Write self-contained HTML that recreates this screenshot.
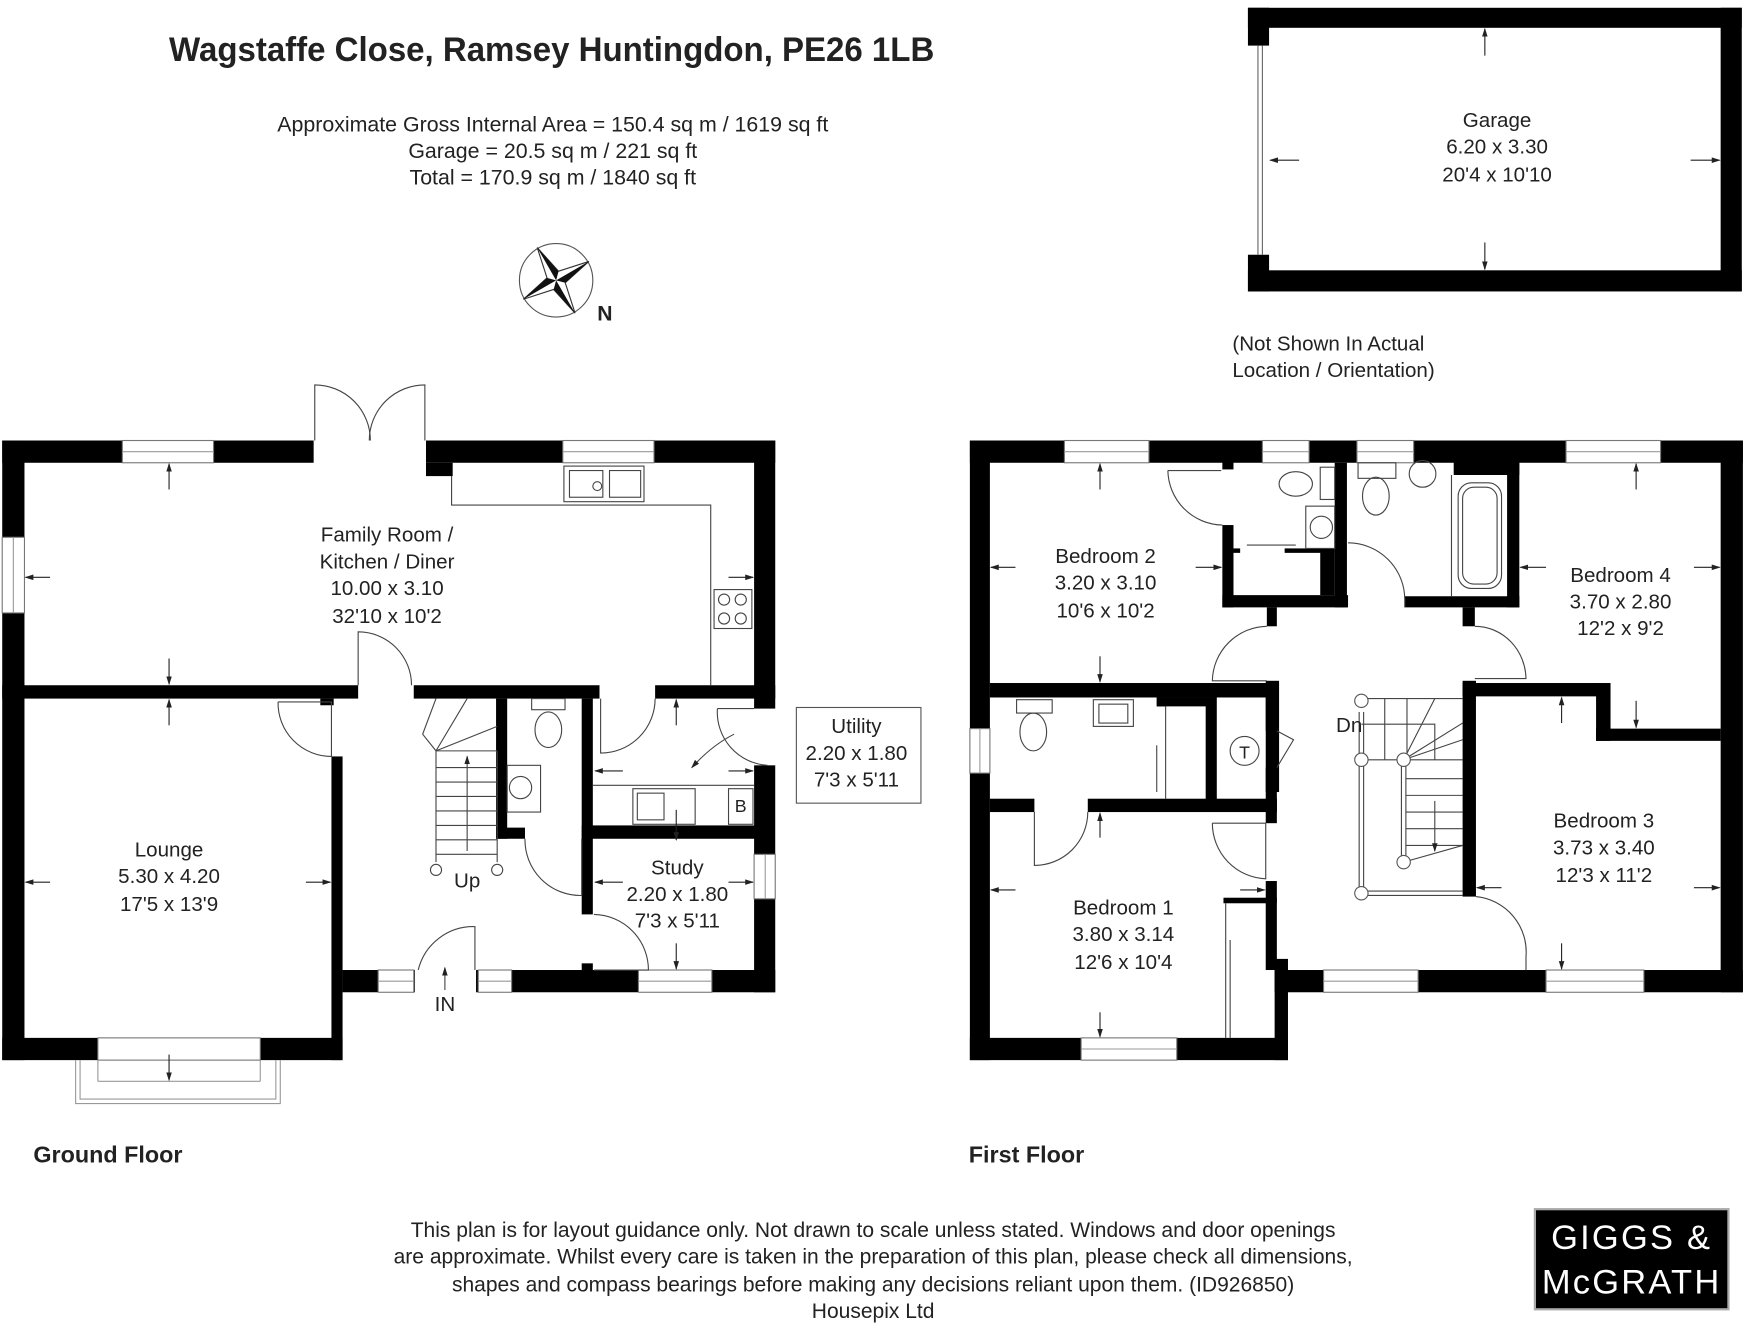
<!DOCTYPE html>
<html><head><meta charset="utf-8"><style>
html,body{margin:0;padding:0;background:#fff}
svg{display:block}
text{font-family:"Liberation Sans",Arial,sans-serif;fill:#222}
</style></head><body>
<svg width="1744" height="1336" viewBox="0 0 1568 1201" preserveAspectRatio="none" xmlns="http://www.w3.org/2000/svg">
<defs>
<marker id="a" markerWidth="8" markerHeight="8" refX="7" refY="4" orient="auto" markerUnits="userSpaceOnUse"><path d="M0,1.5 L8,4 L0,6.5 Z" fill="#222"/></marker>
</defs>
<rect width="1568" height="1201" fill="#fff"/>

<text x="152" y="55" font-size="31" font-weight="bold" textLength="688" lengthAdjust="spacingAndGlyphs" fill="#111">Wagstaffe Close, Ramsey Huntingdon, PE26 1LB</text>
<g font-size="19.2" text-anchor="middle">
<text x="497" y="118">Approximate Gross Internal Area = 150.4 sq m / 1619 sq ft</text>
<text x="497" y="142">Garage = 20.5 sq m / 221 sq ft</text>
<text x="497" y="166">Total = 170.9 sq m / 1840 sq ft</text>
</g>

<g transform="translate(500,252)">
<circle r="33" fill="none" stroke="#555" stroke-width="1"/>
<g transform="rotate(-30)">
<path d="M0,-34 L6,-6 L34,0 L6,6 L0,34 L-6,6 L-34,0 L-6,-6 Z" fill="#fff" stroke="#333" stroke-width="1"/>
<path d="M0,-34 L6,-6 L0,0 Z M34,0 L6,6 L0,0 Z M0,34 L-6,6 L0,0 Z M-34,0 L-6,-6 L0,0 Z" fill="#111"/>
</g>
</g>
<text x="537" y="288" font-size="19" font-weight="bold" fill="#111">N</text>

<g>
<rect x="1122" y="7" width="444" height="18" fill="#000"/>
<rect x="1122" y="243" width="444" height="19" fill="#000"/>
<rect x="1547" y="7" width="19" height="255" fill="#000"/>
<rect x="1122" y="7" width="19" height="34" fill="#000"/>
<rect x="1122" y="229" width="19" height="33" fill="#000"/>
<line x1="1131" y1="41" x2="1131" y2="229" stroke="#666" stroke-width="1"/>
<line x1="1135" y1="41" x2="1135" y2="229" stroke="#666" stroke-width="1"/>
<g stroke="#222" stroke-width="1" marker-end="url(#a)">
<line x1="1335" y1="50" x2="1335" y2="26"/>
<line x1="1335" y1="218" x2="1335" y2="242"/>
<line x1="1168" y1="144" x2="1142" y2="144"/>
<line x1="1520" y1="144" x2="1546" y2="144"/>
</g>
<g font-size="18.5" text-anchor="middle">
<text x="1346" y="114">Garage</text>
<text x="1346" y="138">6.20 x 3.30</text>
<text x="1346" y="163">20'4 x 10'10</text>
</g>
<text x="1108" y="315" font-size="18.5">(Not Shown In Actual</text>
<text x="1108" y="339" font-size="18.5">Location / Orientation)</text>
</g>

<g fill="#000">
<rect x="2" y="396" width="280" height="20"/>
<rect x="383" y="396" width="314" height="20"/>
<rect x="383" y="416" width="24" height="12"/>
<rect x="2" y="396" width="20" height="557"/>
<rect x="678" y="396" width="19" height="241"/>
<rect x="678" y="688" width="19" height="204"/>
<rect x="2" y="616" width="320" height="12"/>
<rect x="372" y="616" width="167" height="12"/>
<rect x="589" y="616" width="108" height="12"/>
<rect x="288" y="628" width="12" height="6"/>
<rect x="298" y="680" width="10" height="273"/>
<rect x="2" y="933" width="86" height="20"/>
<rect x="234" y="933" width="74" height="20"/>
<rect x="308" y="872" width="65" height="20"/>
<rect x="428" y="872" width="269" height="20"/>
<rect x="446" y="628" width="10" height="126"/>
<rect x="446" y="744" width="26" height="10"/>
<rect x="523" y="628" width="10" height="194"/>
<rect x="523" y="742" width="156" height="12"/>
<rect x="523" y="866" width="10" height="8"/>
</g>
<g fill="#fff" stroke="#777" stroke-width="1">
<rect x="110" y="396" width="82" height="20"/>
<rect x="506" y="396" width="82" height="20"/>
<rect x="2" y="483" width="20" height="68"/>
<rect x="678" y="768" width="19" height="40"/>
<rect x="340" y="872" width="32" height="20"/>
<rect x="430" y="872" width="30" height="20"/>
<rect x="574" y="872" width="66" height="20"/>
<rect x="88" y="933" width="146" height="20"/>
</g>
<g stroke="#999" stroke-width="1" fill="none">
<line x1="110" y1="406" x2="192" y2="406"/><line x1="506" y1="406" x2="588" y2="406"/>
<line x1="12" y1="483" x2="12" y2="551"/><line x1="688" y1="768" x2="688" y2="808"/>
<line x1="340" y1="882" x2="372" y2="882"/><line x1="430" y1="882" x2="460" y2="882"/><line x1="574" y1="882" x2="640" y2="882"/>
<path d="M68,953 L68,992 L252,992 L252,953"/>
<path d="M72,953 L72,988 L248,988 L248,953"/>
<line x1="88" y1="953" x2="88" y2="972"/><line x1="234" y1="953" x2="234" y2="972"/>
<line x1="88" y1="972" x2="234" y2="972"/>
</g>
<g stroke="#444" stroke-width="1" fill="none">
<path d="M283,396 L283,346 A50,50 0 0 1 333,396"/>
<path d="M382,396 L382,346 A50,50 0 0 0 332,396"/>
<path d="M406,428 L406,454 L639,454 L639,616"/>
<rect x="507" y="419" width="72" height="32"/>
<rect x="512" y="423" width="30" height="24"/><rect x="548" y="423" width="28" height="24"/>
<circle cx="537" cy="437" r="4"/>
<rect x="642" y="530" width="34" height="35"/>
<circle cx="651" cy="539" r="5"/><circle cx="666" cy="539" r="5"/><circle cx="651" cy="556" r="5"/><circle cx="666" cy="556" r="5"/>
<path d="M322,616 L322,568 A48,48 0 0 1 370,616"/>
<path d="M250,631 L298,631 L298,680 A48,48 0 0 1 250,631"/>
<path d="M540,628 L540,677 A49,49 0 0 0 589,628"/>
<path d="M645,637 L678,637 M645,637 A48,48 0 0 0 690,688"/>
<path d="M660,660 Q640,670 622,690" marker-end="url(#a)"/>
<line x1="533" y1="706" x2="678" y2="706"/>
<rect x="569" y="709" width="56" height="32"/><rect x="573" y="713" width="24" height="24"/>
<rect x="655" y="709" width="22" height="32"/>
<rect x="478" y="628" width="30" height="10"/>
<ellipse cx="493" cy="656" rx="12" ry="16"/>
<rect x="456" y="688" width="30" height="42"/><circle cx="468" cy="708" r="10"/>
<path d="M472,754 A50,50 0 0 0 523,805 L523,754"/>
<path d="M534,822 A50,50 0 0 1 583,872 L534,872"/>
<path d="M427,872 L427,833 A51,51 0 0 0 376,872"/>
<path d="M392,675 L392,775 M447,675 L447,775 M392,675 L447,675"/>
<path d="M392,690 L447,690 M392,703 L447,703 M392,716 L447,716 M392,729 L447,729 M392,742 L447,742 M392,755 L447,755 M392,768 L447,768"/>
<path d="M392,675 L380,660 L392,628 M392,675 L420,628 M392,675 L447,653"/>
<line x1="420" y1="765" x2="420" y2="680" marker-end="url(#a)"/>
<circle cx="392" cy="782" r="5"/><circle cx="447" cy="782" r="5"/>
<line x1="400" y1="890" x2="400" y2="870" marker-end="url(#a)"/>
</g>
<g stroke="#222" stroke-width="1" marker-end="url(#a)">
<line x1="152" y1="440" x2="152" y2="417"/>
<line x1="152" y1="592" x2="152" y2="615"/>
<line x1="45" y1="519" x2="23" y2="519"/>
<line x1="655" y1="519" x2="677" y2="519"/>
<line x1="152" y1="652" x2="152" y2="629"/>
<line x1="152" y1="948" x2="152" y2="971"/>
<line x1="45" y1="793" x2="23" y2="793"/>
<line x1="275" y1="793" x2="297" y2="793"/>
<line x1="608" y1="652" x2="608" y2="629"/>
<line x1="560" y1="693" x2="535" y2="693"/>
<line x1="655" y1="693" x2="677" y2="693"/>
<line x1="608" y1="728" x2="608" y2="755"/>
<line x1="560" y1="793" x2="535" y2="793"/>
<line x1="655" y1="793" x2="677" y2="793"/>
<line x1="608" y1="848" x2="608" y2="871"/>
</g>
<rect x="716" y="636" width="112" height="86" fill="#fff" stroke="#555" stroke-width="1"/>
<g font-size="18.5" text-anchor="middle">
<text x="770" y="659">Utility</text>
<text x="770" y="683">2.20 x 1.80</text>
<text x="770" y="707">7'3 x 5'11</text>
<text x="348" y="487">Family Room /</text>
<text x="348" y="511">Kitchen / Diner</text>
<text x="348" y="535">10.00 x 3.10</text>
<text x="348" y="560">32'10 x 10'2</text>
<text x="152" y="770">Lounge</text>
<text x="152" y="794">5.30 x 4.20</text>
<text x="152" y="819">17'5 x 13'9</text>
<text x="609" y="786">Study</text>
<text x="609" y="810">2.20 x 1.80</text>
<text x="609" y="834">7'3 x 5'11</text>
<text x="420" y="798">Up</text>
<text x="400" y="909">IN</text>
</g>
<text x="666" y="730" font-size="16" text-anchor="middle">B</text>

<g fill="#000">
<rect x="872" y="396" width="695" height="20"/>
<rect x="872" y="396" width="18" height="557"/>
<rect x="1547" y="396" width="20" height="496"/>
<rect x="872" y="933" width="286" height="20"/>
<rect x="1146" y="872" width="421" height="20"/>
<rect x="1146" y="862" width="12" height="91"/>
<rect x="890" y="614" width="258" height="13"/>
<rect x="1099" y="415" width="10" height="7"/>
<rect x="1099" y="472" width="10" height="74"/>
<rect x="1099" y="535" width="113" height="11"/>
<rect x="1200" y="416" width="11" height="130"/>
<rect x="1187" y="493" width="13" height="42"/>
<rect x="1155" y="493" width="45" height="4"/>
<rect x="1109" y="493" width="6" height="4"/>
<rect x="1139" y="546" width="9" height="17"/>
<rect x="1263" y="536" width="103" height="10"/>
<rect x="1307" y="415" width="59" height="12"/>
<rect x="1355" y="416" width="11" height="130"/>
<rect x="1315" y="546" width="11" height="17"/>
<rect x="1315" y="614" width="122" height="12"/>
<rect x="1435" y="614" width="13" height="52"/>
<rect x="1435" y="655" width="112" height="11"/>
<rect x="1138" y="612" width="12" height="100"/>
<rect x="1315" y="612" width="12" height="194"/>
<rect x="1040" y="627" width="8" height="8"/>
<rect x="1084" y="627" width="10" height="92"/>
<rect x="1138" y="627" width="10" height="30"/>
<rect x="1138" y="690" width="10" height="40"/>
<rect x="1040" y="627" width="46" height="8"/>
<rect x="890" y="718" width="40" height="12"/>
<rect x="978" y="718" width="170" height="12"/>
<rect x="1138" y="718" width="10" height="22"/>
<rect x="1138" y="792" width="10" height="80"/>
<rect x="1100" y="807" width="48" height="5"/>
</g>
<g fill="#fff" stroke="#777" stroke-width="1">
<rect x="957" y="396" width="76" height="20"/>
<rect x="1135" y="396" width="42" height="20"/>
<rect x="1220" y="396" width="51" height="20"/>
<rect x="1408" y="396" width="85" height="20"/>
<rect x="872" y="655" width="18" height="40"/>
<rect x="1190" y="872" width="85" height="20"/>
<rect x="1390" y="872" width="88" height="20"/>
<rect x="972" y="933" width="86" height="20"/>
</g>
<g stroke="#999" stroke-width="1">
<line x1="957" y1="406" x2="1033" y2="406"/><line x1="1135" y1="406" x2="1177" y2="406"/>
<line x1="1220" y1="406" x2="1271" y2="406"/><line x1="1408" y1="406" x2="1493" y2="406"/>
<line x1="881" y1="655" x2="881" y2="695"/><line x1="1190" y1="882" x2="1275" y2="882"/>
<line x1="1390" y1="882" x2="1478" y2="882"/><line x1="972" y1="943" x2="1058" y2="943"/>
</g>
<g stroke="#444" stroke-width="1" fill="none">
<path d="M1050,423 L1098,423 M1050,423 A50,50 0 0 0 1099,472"/>
<ellipse cx="1165" cy="435" rx="15" ry="11"/><rect x="1187" y="420" width="13" height="29"/>
<rect x="1174" y="455" width="26" height="38"/><circle cx="1188" cy="474" r="10"/>
<line x1="1121" y1="490" x2="1165" y2="490"/>
<rect x="1221" y="416" width="34" height="14"/><ellipse cx="1237" cy="446" rx="12" ry="17"/>
<circle cx="1279" cy="426" r="12"/>
<line x1="1305" y1="427" x2="1305" y2="536"/>
<rect x="1311" y="434" width="39" height="95" rx="12"/>
<rect x="1315" y="438" width="31" height="87" rx="10"/>
<path d="M1212,488 A51,51 0 0 1 1263,539 L1263,546"/>
<path d="M1139,563 A50,50 0 0 0 1090,612 L1139,612"/>
<path d="M1326,563 A46,48 0 0 1 1372,610 L1326,610"/>
<rect x="914" y="629" width="32" height="12"/><ellipse cx="929" cy="658" rx="12" ry="17"/>
<rect x="983" y="629" width="36" height="24"/><rect x="988" y="633" width="26" height="17"/>
<line x1="1048" y1="635" x2="1048" y2="718"/><line x1="1040" y1="670" x2="1040" y2="712"/>
<circle cx="1119" cy="675" r="13"/>
<path d="M1148,657 L1163,665 L1148,690"/>
<path d="M930,730 L930,778 A48,48 0 0 0 978,730"/>
<path d="M1090,740 A50,50 0 0 0 1138,790 L1138,740 L1090,740"/>
<line x1="1102" y1="812" x2="1102" y2="933"/><line x1="1106" y1="845" x2="1106" y2="933"/>
<path d="M1327,806 A50,50 0 0 1 1372,860 L1372,872"/>
<path d="M1224,628 L1315,628 M1224,805 L1315,805 M1224,801 L1315,801 M1222,640 L1222,805 M1226,640 L1226,805"/>
<path d="M1245,628 L1245,683 M1265,628 L1265,683 M1224,683 L1315,683 M1224,651 L1290,651 L1290,683"/>
<path d="M1260,683 L1260,775 M1264,683 L1264,775"/>
<path d="M1262,683 L1315,650 M1262,683 L1290,628 M1262,683 L1315,665"/>
<path d="M1264,700 L1315,700 M1264,715 L1315,715 M1264,730 L1315,730 M1264,745 L1315,745 M1264,760 L1315,760"/>
<path d="M1262,775 L1315,760"/>
<line x1="1290" y1="720" x2="1290" y2="765" marker-end="url(#a)"/>
</g>
<g fill="#fff" stroke="#555" stroke-width="1">
<circle cx="1224" cy="630" r="6"/><circle cx="1224" cy="683" r="6"/><circle cx="1262" cy="683" r="6"/><circle cx="1262" cy="775" r="6"/><circle cx="1224" cy="803" r="6"/>
</g>
<g stroke="#222" stroke-width="1" marker-end="url(#a)">
<line x1="989" y1="440" x2="989" y2="417"/>
<line x1="989" y1="590" x2="989" y2="613"/>
<line x1="913" y1="510" x2="891" y2="510"/>
<line x1="1075" y1="510" x2="1098" y2="510"/>
<line x1="1471" y1="440" x2="1471" y2="417"/>
<line x1="1471" y1="630" x2="1471" y2="654"/>
<line x1="1390" y1="510" x2="1367" y2="510"/>
<line x1="1523" y1="510" x2="1546" y2="510"/>
<line x1="1404" y1="650" x2="1404" y2="627"/>
<line x1="1404" y1="848" x2="1404" y2="871"/>
<line x1="1350" y1="798" x2="1328" y2="798"/>
<line x1="1523" y1="798" x2="1546" y2="798"/>
<line x1="989" y1="753" x2="989" y2="731"/>
<line x1="989" y1="910" x2="989" y2="932"/>
<line x1="913" y1="800" x2="891" y2="800"/>
<line x1="1115" y1="800" x2="1137" y2="800"/>
</g>
<g font-size="18.5" text-anchor="middle">
<text x="994" y="506">Bedroom 2</text>
<text x="994" y="530">3.20 x 3.10</text>
<text x="994" y="555">10'6 x 10'2</text>
<text x="1457" y="523">Bedroom 4</text>
<text x="1457" y="547">3.70 x 2.80</text>
<text x="1457" y="571">12'2 x 9'2</text>
<text x="1442" y="744">Bedroom 3</text>
<text x="1442" y="768">3.73 x 3.40</text>
<text x="1442" y="793">12'3 x 11'2</text>
<text x="1010" y="822">Bedroom 1</text>
<text x="1010" y="846">3.80 x 3.14</text>
<text x="1010" y="871">12'6 x 10'4</text>
<text x="1213" y="658">Dn</text>
<text x="1119" y="682" font-size="16">T</text>
</g>

<text x="30" y="1045" font-size="21" font-weight="bold" fill="#111">Ground Floor</text>
<text x="871" y="1045" font-size="21" font-weight="bold" fill="#111">First Floor</text>
<g font-size="18.9" text-anchor="middle">
<text x="785" y="1112">This plan is for layout guidance only. Not drawn to scale unless stated. Windows and door openings</text>
<text x="785" y="1136">are approximate. Whilst every care is taken in the preparation of this plan, please check all dimensions,</text>
<text x="785" y="1161">shapes and compass bearings before making any decisions reliant upon them. (ID926850)</text>
<text x="785" y="1185">Housepix Ltd</text>
</g>
<rect x="1380" y="1087" width="174" height="90" fill="#000" stroke="#aaa" stroke-width="2"/>
<g font-size="31" text-anchor="middle" letter-spacing="2">
<text x="1467" y="1123" style="fill:#fff">GIGGS &amp;</text>
<text x="1467" y="1163" style="fill:#fff">McGRATH</text>
</g>
</svg>
</body></html>
